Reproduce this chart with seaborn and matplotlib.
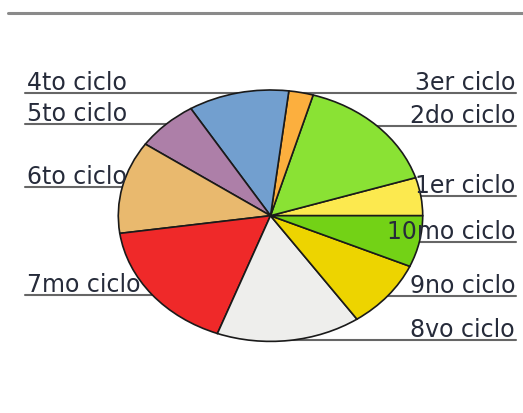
import numpy as np
import matplotlib
matplotlib.use("Agg")
import matplotlib.pyplot as plt
from matplotlib.lines import Line2D
import seaborn as sns

# Datos (porcentaje por ciclo)
ciclos = ["1er ciclo", "2do ciclo", "3er ciclo", "4to ciclo", "5to ciclo",
          "6to ciclo", "7mo ciclo", "8vo ciclo", "9no ciclo", "10mo ciclo"]
valores = [4.9, 15.6, 2.6, 10.7, 6.6, 11.9, 17.1, 15.3, 8.8, 6.6]
colores = ["#fce94f", "#8ae234", "#fcaf3e", "#729fcf", "#ad7fa8",
           "#e9b96e", "#ef2929", "#eeeeec", "#edd400", "#73d216"]

sns.set_theme(style="white")
plt.rcParams["font.family"] = ["DejaVu Sans"]

W, H = 523, 414
fig = plt.figure(figsize=(W / 100, H / 100), dpi=100)

# geometría del pastel (elipse) en píxeles
cx, cy, rx, ry = 270.5, 216.7, 152.2, 125.7
ax = fig.add_axes([(cx - rx) / W, (H - cy - ry) / H, 2 * rx / W, 2 * ry / H])

wedges, _ = ax.pie(valores, colors=colores, startangle=0, counterclock=True,
                   radius=1, wedgeprops=dict(edgecolor="#1a1a1a", linewidth=1.2))
ax.set_aspect("auto")
ax.set_xlim(-1, 1)
ax.set_ylim(-1, 1)
ax.set_axis_off()

x_izq = (25 - cx) / rx
x_der = (516 - cx) / rx
color_linea = "#666666"
color_texto = "#262b3a"

for w, etiqueta in zip(wedges, ciclos):
    ang = np.deg2rad((w.theta1 + w.theta2) / 2)
    x0, y0 = np.cos(ang), np.sin(ang)
    if x0 >= 0:
        ax.plot([x0, x_der], [y0, y0], color=color_linea, lw=1.5,
                zorder=0.5, clip_on=False)
        ax.annotate(etiqueta, xy=(x_der, y0), xytext=(-1, 4),
                    textcoords="offset pixels", ha="right", va="baseline",
                    fontsize=17, color=color_texto, zorder=5,
                    annotation_clip=False)
    else:
        ax.plot([x_izq, x0], [y0, y0], color=color_linea, lw=1.5,
                zorder=0.5, clip_on=False)
        ax.annotate(etiqueta, xy=(x_izq, y0), xytext=(2, 4),
                    textcoords="offset pixels", ha="left", va="baseline",
                    fontsize=17, color=color_texto, zorder=5,
                    annotation_clip=False)

# línea superior
fig.add_artist(Line2D([8 / W, 1], [1 - 14 / H] * 2, transform=fig.transFigure,
                      color="#8a8a8a", lw=2.2))

fig.savefig("out.png", dpi=100)
